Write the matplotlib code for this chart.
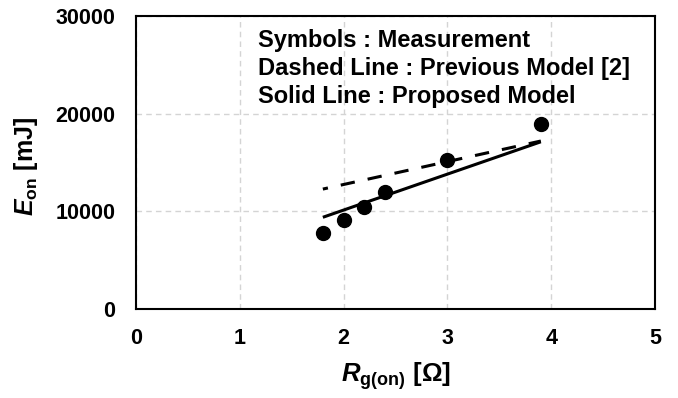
import numpy as np
import matplotlib.pyplot as plt

plt.rcParams['font.family'] = 'Liberation Sans'
plt.rcParams['font.weight'] = 'bold'
plt.rcParams['axes.labelweight'] = 'bold'
plt.rcParams['mathtext.fontset'] = 'custom'
plt.rcParams['mathtext.rm'] = 'Liberation Sans:bold'
plt.rcParams['mathtext.it'] = 'Liberation Sans:italic:bold'
plt.rcParams['mathtext.bf'] = 'Liberation Sans:bold'

# Medidas
rg_med = [1.8, 2.0, 2.2, 2.4, 3.0, 3.9]
eon_med = [7750, 9100, 10400, 11950, 15250, 18950]

# Modelo anterior [2] (linea discontinua)
rg_prev = [1.8, 3.9]
eon_prev = [12280, 17200]

# Modelo propuesto (linea continua)
rg_prop = [1.8, 2.0, 2.2, 2.4, 3.0, 3.9]
eon_prop = [9390, 10130, 10870, 11600, 13810, 17120]

xticks = [0, 1, 2, 3, 4, 5]
yticks = [0, 10000, 20000, 30000]

notas = ['Symbols : Measurement',
         'Dashed Line : Previous Model [2]',
         'Solid Line : Proposed Model']

fig = plt.figure(figsize=(6.78, 3.98), dpi=100)
ax = fig.add_axes([0.2006, 0.2236, 0.7655, 0.7362])

ax.plot(rg_prev, eon_prev, color='black', lw=2.2, linestyle=(3.0, (4.7, 4.3)))
ax.plot(rg_prop, eon_prop, color='black', lw=2.2, solid_capstyle='butt')
ax.plot(rg_med, eon_med, 'o', color='black', ms=10)

ax.set_xlim(0, 5)
ax.set_ylim(0, 30000)
ax.set_xticks(xticks)
ax.set_yticks(yticks)
ax.tick_params(length=0, labelsize=15.5)
ax.tick_params(axis='x', pad=14)
ax.tick_params(axis='y', pad=15)

ax.grid(True, color='#d4d4d4', linestyle=(0, (4, 3)), lw=1)
for s in ax.spines.values():
    s.set_linewidth(1.5)

ax.set_xlabel(r'$\mathit{R}_{\mathrm{g(on)}}$ [Ω]', fontsize=18.5, labelpad=8)
ax.set_ylabel(r'$\mathit{E}_{\mathrm{on}}$ [mJ]', fontsize=18)
ax.yaxis.set_label_coords(-0.185, 0.485)

# Texto explicativo, una linea por cada serie
for i, t in enumerate(notas):
    ax.text(0.235, 0.894 - i * 0.0955, t, transform=ax.transAxes,
            fontsize=17, va='baseline', ha='left')

plt.savefig('out.png', dpi=100)
